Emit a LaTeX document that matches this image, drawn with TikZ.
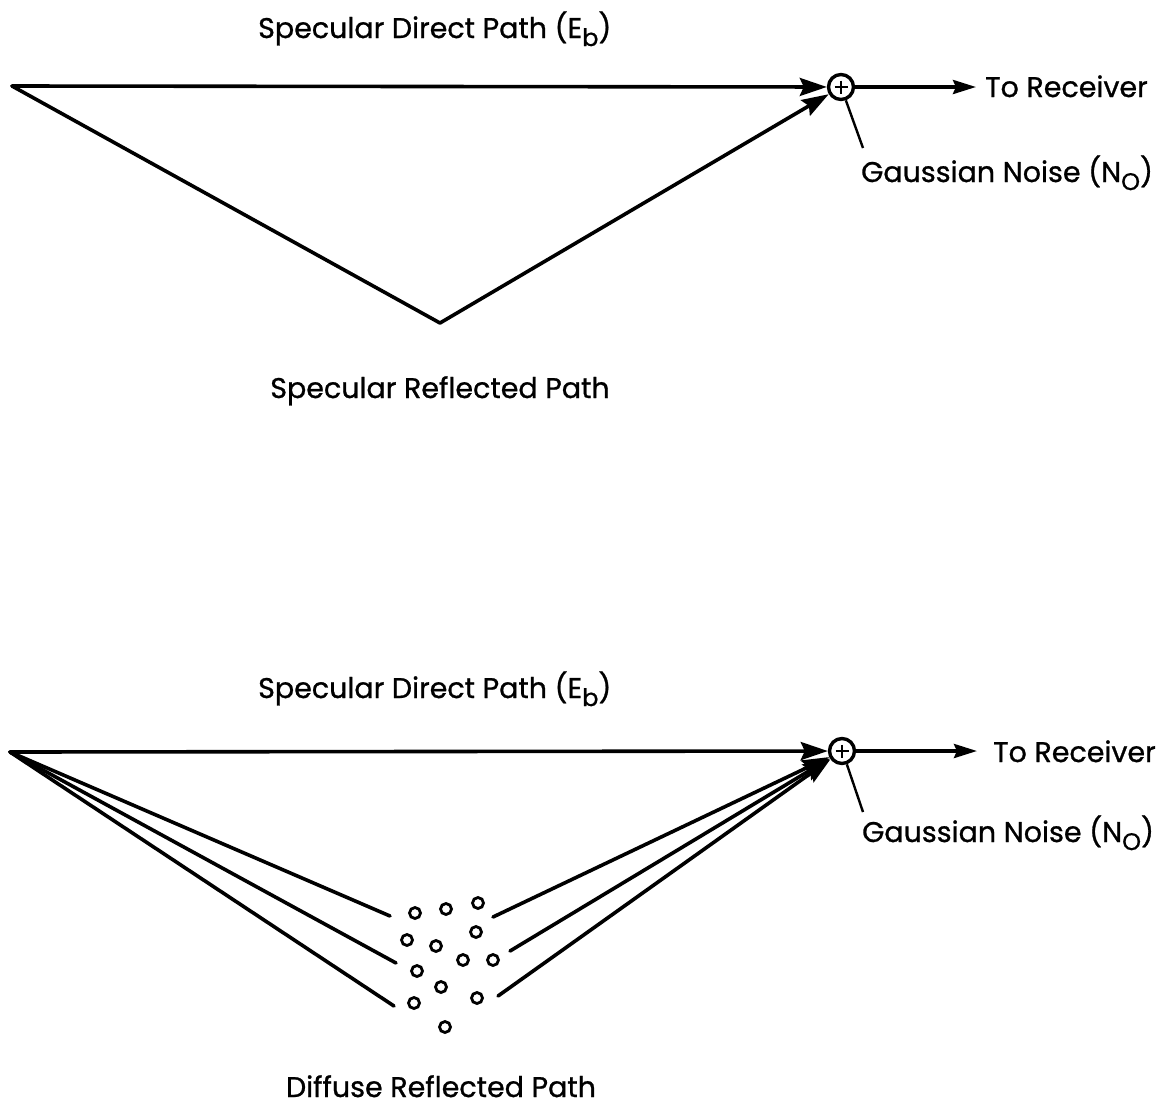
\documentclass[tikz,border=0pt]{standalone}
\usepackage{fontspec}
\setmainfont{Poppins}[FakeBold=0.9]
\usetikzlibrary{arrows.meta,calc}
\newcommand{\lowsub}[1]{\raisebox{-8pt}{\fontsize{24}{24}\selectfont #1}}
\begin{document}
\begin{tikzpicture}[x=1pt,y=-1pt,
  wire/.style={line width=3.6pt,line cap=round},
  bigarrow/.style={wire,-{Stealth[length=27pt,width=18pt,inset=4pt]}},
  outarrow/.style={wire,-{Stealth[length=23pt,width=14pt,inset=3pt]}},
  sumnode/.style={circle,draw,line width=3.4pt,minimum size=25pt,inner sep=0pt},
  lbl/.style={font=\fontsize{28.5}{33}\selectfont,inner sep=0pt},
  dot/.style={circle,draw,line width=2.8pt,minimum size=11pt,inner sep=0pt},
  lead/.style={line width=2.4pt}]
\useasboundingbox (0,0) rectangle (1157,1112);
\fill[white] (0,0) rectangle (1157,1112);

% ---------- top diagram ----------
\coordinate (src1) at (12,86);
\coordinate (refl1) at (440,323);
\node[sumnode] (sum1) at (841,87) {};
\draw[line width=2.4pt] ($(sum1)+(-6.5,0)$) -- ($(sum1)+(6.5,0)$);
\draw[line width=2.4pt] ($(sum1)+(0,-6.5)$) -- ($(sum1)+(0,6.5)$);
\coordinate (out1) at (976,87);
\coordinate (noiseend1) at (863,148);

\draw[bigarrow] (src1) -- (sum1);
\draw[wire] (src1) -- (refl1);
\draw[bigarrow] (refl1) -- (sum1);
\draw[outarrow] (sum1) -- (out1);
\draw[lead] (sum1.-70) -- (noiseend1);

\node[lbl,anchor=base west] (dir1) at (258,38) {Specular Direct Path (E\lowsub{b})};
\node[lbl,anchor=base] (reflab1) at (440,398) {Specular Reflected Path};
\node[lbl,anchor=base west] (rx1) at (985,97) {To Receiver};
\node[lbl,anchor=base west] (nz1) at (861,182) {Gaussian Noise (N\lowsub{O})};

% ---------- bottom diagram ----------
\coordinate (src2) at (10,752);
\node[sumnode] (sum2) at (842,751) {};
\draw[line width=2.4pt] ($(sum2)+(-6.5,0)$) -- ($(sum2)+(6.5,0)$);
\draw[line width=2.4pt] ($(sum2)+(0,-6.5)$) -- ($(sum2)+(0,6.5)$);
\coordinate (out2) at (977,751);
\coordinate (noiseend2) at (863,812);

\draw[bigarrow] (src2) -- (sum2);
\draw[outarrow] (sum2) -- (out2);
\draw[lead] (sum2.-70) -- (noiseend2);

\coordinate (l1) at (390,916);
\coordinate (l2) at (396,963);
\coordinate (l3) at (394,1006);
\draw[wire] (src2) -- (l1);
\draw[wire] (src2) -- (l2);
\draw[wire] (src2) -- (l3);

\coordinate (r1) at (493,917);
\coordinate (r2) at (510,951);
\coordinate (r3) at (498,996);
\draw[bigarrow] (r1) -- (sum2);
\draw[bigarrow] (r2) -- (sum2);
\draw[bigarrow] (r3) -- (sum2);

\foreach \i/\p in {1/{(415,913)},2/{(446,909)},3/{(478,903)},4/{(476,932)},
  5/{(407,940)},6/{(436,946)},7/{(463,960)},8/{(493,960)},9/{(417,971)},
  10/{(441,987)},11/{(477,998)},12/{(414,1003)},13/{(445,1027)}}
  \node[dot] (d\i) at \p {};

\node[lbl,anchor=base west] (dir2) at (258,698) {Specular Direct Path (E\lowsub{b})};
\node[lbl,anchor=base] (diflab) at (441,1097) {Diffuse Reflected Path};
\node[lbl,anchor=base west] (rx2) at (993,762) {To Receiver};
\node[lbl,anchor=base west] (nz2) at (862,842) {Gaussian Noise (N\lowsub{O})};
\end{tikzpicture}
\end{document}
